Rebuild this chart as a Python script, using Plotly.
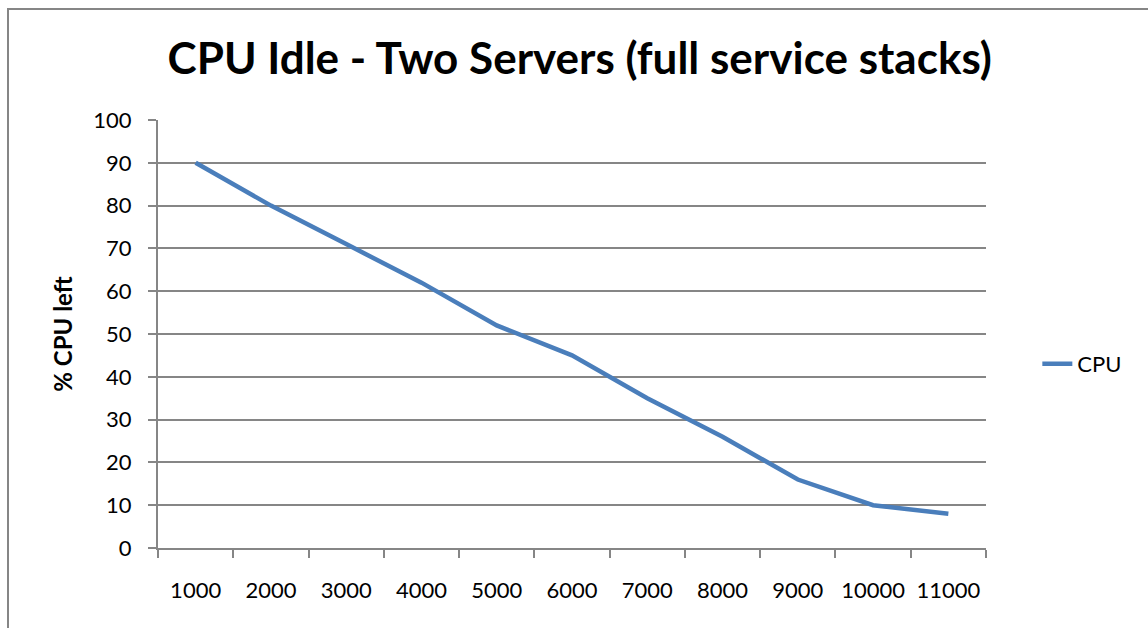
import plotly.graph_objects as go

# Number of concurrent users tested and remaining idle CPU (%)
users = ["1000", "2000", "3000", "4000", "5000", "6000",
         "7000", "8000", "9000", "10000", "11000"]
cpu_left = [90, 80, 71, 62, 52, 45, 35, 26, 16, 10, 8]

title_text = "CPU Idle - Two Servers (full service stacks)"
y_title = "% CPU left"
series_name = "CPU"

FONT = "Lato, 'Open Sans', sans-serif"
GRID = "#868686"

fig = go.Figure()
fig.add_trace(go.Scatter(
    x=users, y=cpu_left, name=series_name, mode="lines",
    line=dict(color="#4A7EBB", width=4.5),
))

fig.update_layout(
    width=1148, height=628,
    margin=dict(l=158, r=162, t=120, b=80),
    paper_bgcolor="white", plot_bgcolor="white",
    font=dict(family=FONT, color="#000000", size=22),
    title=dict(
        text=title_text, xref="container", x=0.505, xanchor="center",
        yref="container", y=1 - 59 / 628, yanchor="middle",
        font=dict(family=FONT, size=44, color="#000000", weight="bold"),
    ),
    showlegend=True,
    legend=dict(
        x=1.062, xanchor="left", y=0.43, yanchor="middle",
        font=dict(family=FONT, size=22), bgcolor="rgba(0,0,0,0)",
    ),
    xaxis=dict(
        type="category", range=[-0.5, 10.5], tickson="boundaries",
        showgrid=False, showline=True, linecolor=GRID, linewidth=2,
        ticks="outside", ticklen=8, tickwidth=2, tickcolor=GRID,
        tickfont=dict(family=FONT, size=22), ticklabelstandoff=22,
        zeroline=False,
    ),
    yaxis=dict(
        range=[0, 100], dtick=10, tick0=0,
        showgrid=True, gridcolor=GRID, gridwidth=2,
        showline=True, linecolor=GRID, linewidth=2,
        ticks="outside", ticklen=8, tickwidth=2, tickcolor=GRID,
        tickfont=dict(family=FONT, size=22), ticklabelstandoff=12,
        zeroline=False,
        title=dict(text=y_title, standoff=14,
                   font=dict(family=FONT, size=24, weight="bold")),
    ),
)

# Chart frame (its right and bottom edges lie outside the page)
fig.add_shape(
    type="rect", xref="paper", yref="paper",
    x0=(8 - 158) / 828, x1=(1170 - 158) / 828,
    y0=(548 - 650) / 428, y1=(548 - 9) / 428,
    line=dict(color=GRID, width=2), fillcolor="rgba(0,0,0,0)", layer="below",
)

fig.write_html("out.html")
